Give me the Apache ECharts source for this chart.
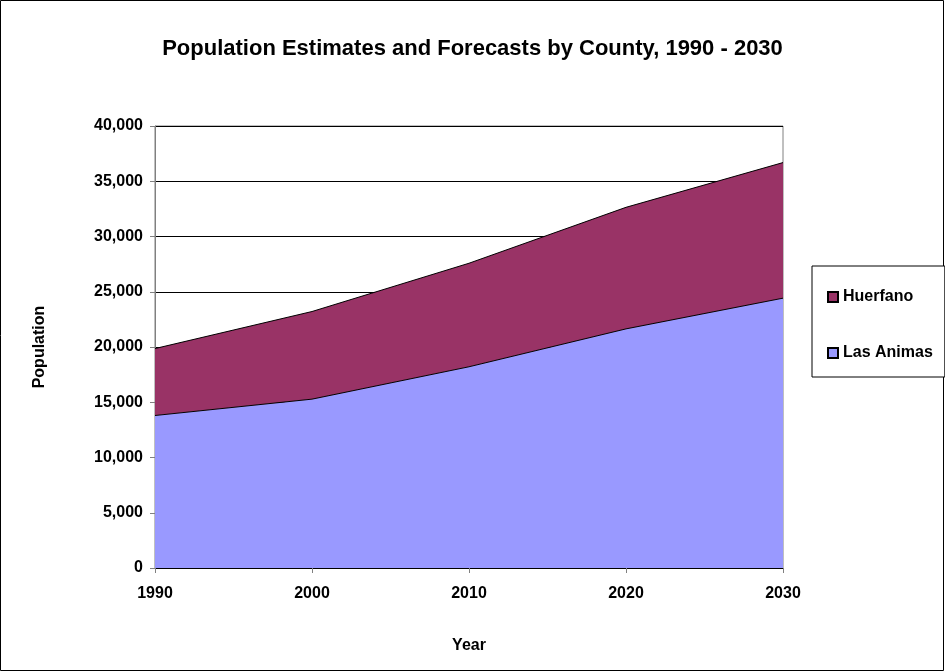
<!DOCTYPE html>
<html>
<head>
<meta charset="utf-8">
<script src="https://cdn.jsdelivr.net/npm/echarts@6/dist/echarts.min.js"></script>
<style>
  html, body { margin: 0; padding: 0; background: #fff; }
  #chart { width: 945px; height: 672px; }
</style>
</head>
<body>
<div id="chart"></div>
<script>
var years = ['1990', '2000', '2010', '2020', '2030'];
var lasAnimas = [13800, 15280, 18210, 21640, 24420];
var huerfano = [6060, 7930, 9370, 11000, 12270];

var myChart = echarts.init(document.getElementById('chart'));

var font = 'Liberation Sans, Arial, sans-serif';

var option = {
    backgroundColor: '#fff',
    animation: false,
    textStyle: { fontFamily: font },
    title: {
        text: 'Population Estimates and Forecasts by County, 1990 - 2030',
        left: 'center',
        top: 33,
        textStyle: { fontSize: 22, fontWeight: 'bold', color: '#000', fontFamily: font }
    },
    graphic: [{
        type: 'rect',
        shape: { x: 0.5, y: 0.5, width: 943, height: 670 },
        style: { fill: 'none', stroke: '#000', lineWidth: 1 },
        silent: true
    }],
    legend: {
        orient: 'vertical',
        left: 812,
        top: 266,
        data: ['Huerfano', 'Las Animas'],
        icon: 'rect',
        itemWidth: 10,
        itemHeight: 10,
        itemGap: 40,
        padding: [23, 12, 16, 15],
        borderColor: '#000',
        borderWidth: 1,
        backgroundColor: '#fff',
        textStyle: { fontSize: 16, fontWeight: 'bold', color: '#000', fontFamily: font }
    },
    grid: {
        left: 155,
        right: 162,
        top: 126,
        bottom: 104,
        show: true,
        borderColor: '#808080',
        borderWidth: 1,
        backgroundColor: '#fff'
    },
    xAxis: {
        type: 'category',
        data: years,
        boundaryGap: false,
        name: 'Year',
        nameLocation: 'middle',
        nameGap: 70,
        nameTextStyle: { fontSize: 16, fontWeight: 'bold', color: '#000', fontFamily: font },
        axisLine: { lineStyle: { color: '#000', width: 1 } },
        axisTick: { show: true, length: 5, inside: false, lineStyle: { color: '#808080' } },
        axisLabel: { fontSize: 16, fontWeight: 'bold', color: '#000', margin: 18, fontFamily: font },
        splitLine: { show: false }
    },
    yAxis: {
        type: 'value',
        min: 0,
        max: 40000,
        interval: 5000,
        name: 'Population',
        nameLocation: 'middle',
        nameGap: 107,
        nameRotate: 90,
        nameTextStyle: { fontSize: 16, fontWeight: 'bold', color: '#000', fontFamily: font },
        axisLine: { show: true, lineStyle: { color: '#808080', width: 1 } },
        axisTick: { show: true, length: 5, lineStyle: { color: '#808080' } },
        axisLabel: {
            fontSize: 16, fontWeight: 'bold', color: '#000', margin: 12, fontFamily: font,
            formatter: function (v) { return v.toLocaleString('en-US'); }
        },
        splitLine: { show: true, lineStyle: { color: '#000', width: 1 } }
    },
    series: [
        {
            name: 'Las Animas',
            type: 'line',
            stack: 'total',
            data: lasAnimas,
            showSymbol: false,
            symbol: 'none',
            color: '#9999FF',
            lineStyle: { color: '#000', width: 1 },
            areaStyle: { color: '#9999FF', opacity: 1 },
            itemStyle: { color: '#9999FF', borderColor: '#000', borderWidth: 1 }
        },
        {
            name: 'Huerfano',
            type: 'line',
            stack: 'total',
            data: huerfano,
            showSymbol: false,
            symbol: 'none',
            color: '#993366',
            lineStyle: { color: '#000', width: 1 },
            areaStyle: { color: '#993366', opacity: 1 },
            itemStyle: { color: '#993366', borderColor: '#000', borderWidth: 1 }
        }
    ]
};

myChart.setOption(option);
</script>
</body>
</html>
